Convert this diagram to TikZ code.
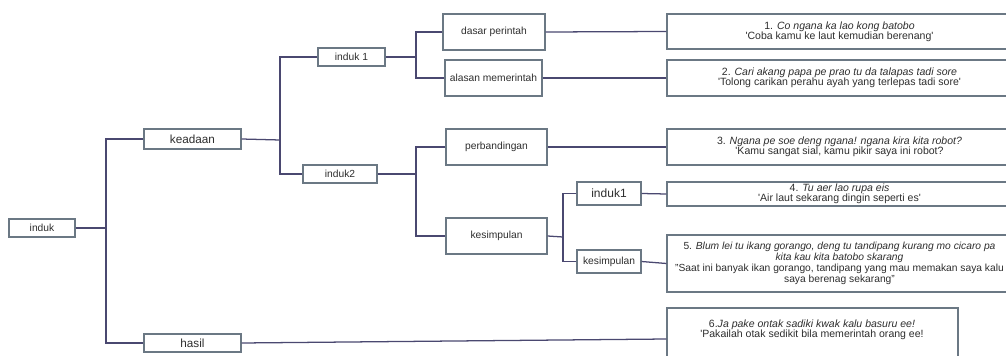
\documentclass[tikz,border=0pt]{standalone}
\usepackage{fontspec}
\setmainfont{Liberation Sans}
\definecolor{lnc}{HTML}{4A4870}
\definecolor{boxc}{HTML}{6B7884}
\definecolor{txt}{HTML}{2E2E2E}
\begin{document}
\begin{tikzpicture}[x=0.75pt,y=-0.75pt,
  bx/.style 2 args={draw=boxc, line width=0.8pt, fill=white, inner sep=0pt,
    minimum width=#1*0.75pt, minimum height=#2*0.75pt,
    text=txt, align=center, font=\fontsize{7.7}{9}\selectfont},
  rt/.style={font=\fontsize{7.9}{7.7}\selectfont},
  big/.style={font=\fontsize{8.8}{10}\selectfont},
  ln/.style={draw=lnc, line width=0.95pt}]
\useasboundingbox (0,0) rectangle (1006,356);
\clip (0,0) rectangle (1006,356);
% left tree
\node[bx={66}{18}] (induk) at (42,228) {induk};
\node[bx={97}{20}, big] (keadaan) at (192.5,139) {keadaan};
\node[bx={97}{18}, big] (hasil) at (192.5,343) {hasil};
\node[bx={67}{18}] (ind1) at (351.5,57) {induk 1};
\node[bx={74}{18}] (ind2) at (340,174) {induk2};
\node[bx={102}{36}] (dasar) at (494,32) {dasar perintah};
\node[bx={97}{36}] (alasan) at (493.5,78) {alasan memerintah};
\node[bx={101}{36}] (banding) at (496.5,147) {perbandingan};
\node[bx={101}{36}] (kes) at (496.5,236) {kesimpulan};
\node[bx={64}{23}, font=\fontsize{9}{10}\selectfont] (indA) at (609,193.5) {induk1};
\node[bx={64}{23}] (kesB) at (609,261.5) {kesimpulan};
% right boxes
\node[bx={345}{35}, rt] (r1) at (839.5,31.5) {1. \textit{Co ngana ka lao kong batobo}\\\textquotesingle Coba kamu ke laut kemudian berenang\textquotesingle};
\node[bx={345}{36}, rt] (r2) at (839.5,78) {2. \textit{Cari akang papa pe prao tu da talapas tadi sore}\\\textquotesingle Tolong carikan perahu ayah yang terlepas tadi sore\textquotesingle};
\node[bx={345}{36}, rt] (r3) at (839.5,147) {3. \textit{Ngana pe soe deng ngana! ngana kira kita robot?}\\\textquotesingle Kamu sangat sial, kamu pikir saya ini robot?};
\node[bx={345}{24}, rt] (r4) at (839.5,194) {4. \textit{Tu aer lao rupa eis}\\\textquotesingle Air laut sekarang dingin seperti es\textquotesingle};
\node[bx={345}{57}, font=\fontsize{7.7}{6.9}\selectfont] (r5) at (839.5,263.5) {5. \textit{Blum lei tu ikang gorango, deng tu tandipang kurang mo cicaro pa}\\\textit{kita kau kita batobo skarang}\\"Saat ini banyak ikan gorango, tandipang yang mau memakan saya kalu\\saya berenag sekarang"};
\node[bx={291}{62}] (r6) at (812.5,339) {};
\node[rt, text=txt, align=center, inner sep=0pt] (t6) at (812,329.5) {6.\textit{Ja pake ontak sadiki kwak kalu basuru ee!}\\\textquotesingle Pakailah otak sedikit bila memerintah orang ee!};
% junctions
\coordinate (j0) at (106,228);
\coordinate (j1) at (280,140);
\coordinate (j2) at (416,57);
\coordinate (j3) at (416,174);
\coordinate (j4) at (563,237);
% connectors
\draw[ln] (induk.east) -- (j0);
\draw[ln] (keadaan.west) -| (j0);
\draw[ln] (hasil.west) -| (j0);
\draw[ln] (keadaan.east) -- (j1);
\draw[ln] (ind1.west) -| (j1);
\draw[ln] (ind2.west) -| (j1);
\draw[ln] (ind1.east) -- (j2);
\draw[ln] (dasar.west) -| (j2);
\draw[ln] (alasan.west) -| (j2);
\draw[ln] (ind2.east) -- (j3);
\draw[ln] (banding.west) -| (j3);
\draw[ln] (kes.west) -| (j3);
\draw[ln] (kes.east) -- (j4);
\draw[ln] (indA.west) -| (j4);
\draw[ln] (kesB.west) -| (j4);
\draw[ln] (dasar.east) -- (r1.west);
\draw[ln] (alasan.east) -- (r2.west);
\draw[ln] (banding.east) -- (r3.west);
\draw[ln] (indA.east) -- (r4.west);
\draw[ln] (kesB.east) -- (r5.west);
\draw[ln] (hasil.east) -- (r6.west);
\end{tikzpicture}
\end{document}
